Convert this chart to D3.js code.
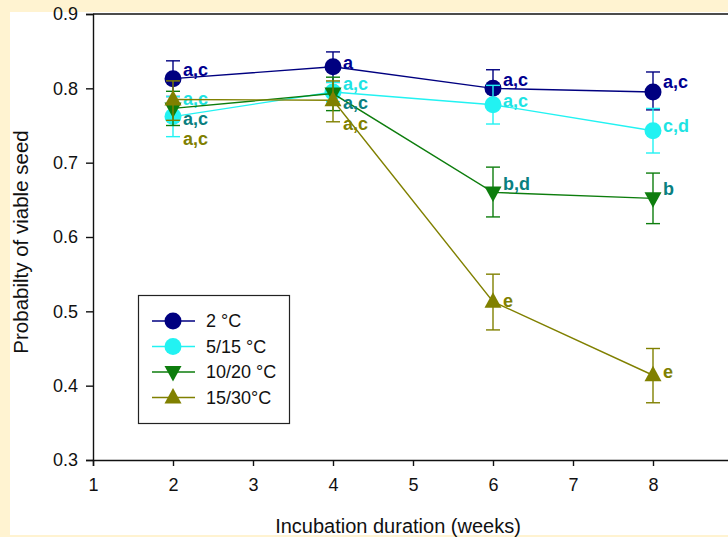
<!DOCTYPE html>
<html>
<head>
<meta charset="utf-8">
<script src="https://cdn.jsdelivr.net/npm/d3@7"></script>
<style>
  body { margin: 0; background: #fff3d1; }
  svg { display: block; font-family: "Liberation Sans", Arial, sans-serif; }
</style>
</head>
<body>
<svg id="chart"></svg>
<script>
// data
const weeks = [2, 4, 6, 8]
const seriesNames = ["2 °C", "5/15 °C", "10/20 °C", "15/30°C"]
const mean2 = [0.813, 0.829, 0.800, 0.795]
const lo2 = [0.789, 0.808, 0.775, 0.771]
const hi2 = [0.837, 0.849, 0.825, 0.822]
const mean515 = [0.762, 0.795, 0.778, 0.743]
const lo515 = [0.735, 0.782, 0.752, 0.713]
const hi515 = [0.789, 0.808, 0.804, 0.773]
const mean1020 = [0.773, 0.793, 0.660, 0.652]
const lo1020 = [0.750, 0.770, 0.627, 0.618]
const hi1020 = [0.796, 0.815, 0.694, 0.686]
const mean1530 = [0.785, 0.784, 0.513, 0.414]
const lo1530 = [0.757, 0.755, 0.475, 0.377]
const hi1530 = [0.810, 0.810, 0.550, 0.450]
const letters2 = ["a,c", "a", "a,c", "a,c"]
const letters515 = ["a,c", "a,c", "a,c", "c,d"]
const letters1020 = ["a,c", "a,c", "b,d", "b"]
const letters1530 = ["a,c", "a,c", "e", "e"]
const xTicks = [1, 2, 3, 4, 5, 6, 7, 8, 9]
const yTicks = [0.3, 0.4, 0.5, 0.6, 0.7, 0.8, 0.9]

// layout
const width = 728
const height = 537
const margin = { left: 93, top: 14 }
const plotRight = 733
const plotBottom = 460

// styling per series (marker, line colour, letter colour, letter vertical offsets in px)
const styles = [
    { shape: "circle", color: "#000080", text: "#000090", dy: [-9, -4, -9, -10] },
    { shape: "circle", color: "#22f2f2", text: "#1ee3e3", dy: [-18, -8, -4, -5] },
    { shape: "down", color: "#0d7d0d", text: "#0a7f80", dy: [10, 9, -9, -10] },
    { shape: "up", color: "#808000", text: "#808000", dy: [39, 23, -1, -4] }
]

const series = [
    { name: seriesNames[0], mean: mean2, lo: lo2, hi: hi2, letters: letters2 },
    { name: seriesNames[1], mean: mean515, lo: lo515, hi: hi515, letters: letters515 },
    { name: seriesNames[2], mean: mean1020, lo: lo1020, hi: hi1020, letters: letters1020 },
    { name: seriesNames[3], mean: mean1530, lo: lo1530, hi: hi1530, letters: letters1530 }
]

const svg = d3.select('svg#chart').attr('width', width).attr('height', height)

// white panel on the beige page
svg.append('rect').attr('x', 10).attr('y', 12).attr('width', width).attr('height', 523).attr('fill', '#ffffff')

var x = d3.scaleLinear().domain([1, 9]).range([margin.left, plotRight])
var y = d3.scaleLinear().domain([0.3, 0.9]).range([plotBottom, margin.top])

// axes
var yAxis = svg.append('g')
    .attr('transform', 'translate(' + margin.left + ',0)')
    .call(d3.axisLeft(y).tickValues(yTicks).tickFormat(d3.format('.1f')).tickSize(7).tickPadding(8))
var xAxis = svg.append('g')
    .attr('transform', 'translate(0,' + plotBottom + ')')
    .call(d3.axisBottom(x).tickValues(xTicks).tickFormat(d3.format('d')).tickSize(6).tickPadding(12))
svg.selectAll('.domain, .tick line').attr('stroke', '#111').attr('stroke-width', 1.4)
svg.selectAll('.tick text').attr('font-size', 18).attr('fill', '#111')
    .attr('font-family', '"Liberation Sans", Arial, sans-serif')

// top frame line
svg.append('line')
    .attr('x1', x(1)).attr('x2', x(9))
    .attr('y1', y(0.9)).attr('y2', y(0.9))
    .attr('stroke', '#111').attr('stroke-width', 1.4)

// axis titles
svg.append('text')
    .attr('x', 398).attr('y', 533)
    .attr('text-anchor', 'middle').attr('font-size', 20).attr('fill', '#111')
    .text('Incubation duration (weeks)')
svg.append('text')
    .attr('transform', 'translate(28,242) rotate(-90)')
    .attr('text-anchor', 'middle').attr('font-size', 20.5).attr('fill', '#111')
    .text('Probabilty of viable seed')

// marker helper
function drawMarker(g, shape, color) {
    if (shape === 'circle') {
        g.append('circle').attr('r', 8.5).attr('fill', color)
    } else if (shape === 'up') {
        g.append('path').attr('d', 'M0,-9.5L8.5,6L-8.5,6Z').attr('fill', color)
    } else {
        g.append('path').attr('d', 'M0,9.5L8.5,-6L-8.5,-6Z').attr('fill', color)
    }
}

var line = d3.line().x(d => x(d.w)).y(d => y(d.v))

series.forEach(function (s, i) {
    var st = styles[i]
    var pts = weeks.map((w, j) => ({ w: w, v: s.mean[j], lo: s.lo[j], hi: s.hi[j], lab: s.letters[j], dy: st.dy[j] }))
    var g = svg.append('g')

    g.append('path').datum(pts)
        .attr('d', line)
        .attr('fill', 'none')
        .attr('stroke', st.color)
        .attr('stroke-width', 1.4)

    // error bars
    var eb = g.selectAll('.err').data(pts).enter().append('g')
    eb.append('line')
        .attr('x1', d => x(d.w)).attr('x2', d => x(d.w))
        .attr('y1', d => y(d.lo)).attr('y2', d => y(d.hi))
        .attr('stroke', st.color).attr('stroke-width', 1.4)
    eb.append('line')
        .attr('x1', d => x(d.w) - 7).attr('x2', d => x(d.w) + 7)
        .attr('y1', d => y(d.hi)).attr('y2', d => y(d.hi))
        .attr('stroke', st.color).attr('stroke-width', 1.4)
    eb.append('line')
        .attr('x1', d => x(d.w) - 7).attr('x2', d => x(d.w) + 7)
        .attr('y1', d => y(d.lo)).attr('y2', d => y(d.lo))
        .attr('stroke', st.color).attr('stroke-width', 1.4)

    // markers
    g.selectAll('.mk').data(pts).enter().append('g')
        .attr('transform', d => 'translate(' + x(d.w) + ',' + y(d.v) + ')')
        .each(function () { drawMarker(d3.select(this), st.shape, st.color) })

    // significance letters
    g.selectAll('.lab').data(pts).enter().append('text')
        .attr('x', d => x(d.w) + 10)
        .attr('y', d => y(d.v) + d.dy)
        .attr('dy', '0.35em')
        .attr('font-size', 18)
        .attr('font-weight', 'bold')
        .attr('fill', st.text)
        .text(d => d.lab)
})

// legend
var legend = svg.append('g')
legend.append('rect')
    .attr('x', 138.5).attr('y', 295.5).attr('width', 151).attr('height', 128)
    .attr('fill', '#fff').attr('stroke', '#222').attr('stroke-width', 1.2)
series.forEach(function (s, i) {
    var st = styles[i]
    var ly = 321 + i * 25.5
    legend.append('line')
        .attr('x1', 152).attr('x2', 195).attr('y1', ly).attr('y2', ly)
        .attr('stroke', st.color).attr('stroke-width', 1.4)
    var m = legend.append('g').attr('transform', 'translate(173,' + ly + ')')
    drawMarker(m, st.shape, st.color)
    legend.append('text')
        .attr('x', 206).attr('y', ly).attr('dy', '0.35em')
        .attr('font-size', 18).attr('fill', '#111')
        .text(s.name)
})
</script>
</body>
</html>
